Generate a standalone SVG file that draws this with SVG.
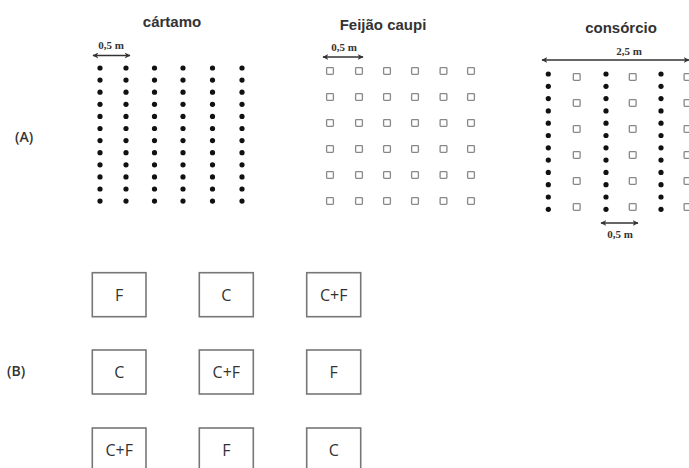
<svg xmlns="http://www.w3.org/2000/svg" xmlns:xlink="http://www.w3.org/1999/xlink" width="689" height="468" viewBox="0 0 689 468">
<style>
.title{font-family:"Liberation Sans",Arial,sans-serif;font-size:15px;font-weight:bold;fill:#333;text-anchor:middle}
.dim{font-family:"Liberation Serif","Times New Roman",serif;font-size:11px;font-weight:bold;fill:#333;text-anchor:middle}
.panel{font-family:"Open Sans","Liberation Sans",sans-serif;font-size:14px;font-weight:600;fill:#333}
.box rect{fill:#fff;stroke:#777;stroke-width:1.6}
.box text{font-family:"Open Sans","Liberation Sans",sans-serif;font-size:16px;fill:#333;text-anchor:middle}
.arrow{stroke:#333;stroke-width:1.3;fill:none;marker-start:url(#ah);marker-end:url(#ah)}
</style>
<defs>
<marker id="ah" viewBox="0 0 10 10" refX="9" refY="5" markerWidth="6" markerHeight="6" markerUnits="userSpaceOnUse" orient="auto-start-reverse">
<path d="M0,0 L10,5 L0,10 L3,5 Z" fill="#333"/>
</marker>
<circle id="d" r="2.6" fill="#111"/>
<rect id="s" x="-3.4" y="-3.4" width="6.8" height="6.8" fill="#fff" stroke="#888" stroke-width="1.3" rx="0.8"/>
<g id="dcol">
<use xlink:href="#d" y="0"/><use xlink:href="#d" y="12.1"/><use xlink:href="#d" y="24.2"/><use xlink:href="#d" y="36.3"/>
<use xlink:href="#d" y="48.4"/><use xlink:href="#d" y="60.5"/><use xlink:href="#d" y="72.6"/><use xlink:href="#d" y="84.7"/>
<use xlink:href="#d" y="96.8"/><use xlink:href="#d" y="108.9"/><use xlink:href="#d" y="121"/><use xlink:href="#d" y="133.1"/>
</g>
<g id="dcol2">
<use xlink:href="#d" y="0"/><use xlink:href="#d" y="12.3"/><use xlink:href="#d" y="24.6"/><use xlink:href="#d" y="36.9"/>
<use xlink:href="#d" y="49.2"/><use xlink:href="#d" y="61.5"/><use xlink:href="#d" y="73.8"/><use xlink:href="#d" y="86.1"/>
<use xlink:href="#d" y="98.4"/><use xlink:href="#d" y="110.7"/><use xlink:href="#d" y="123"/><use xlink:href="#d" y="135.3"/>
</g>
<g id="scol">
<use xlink:href="#s" y="0"/><use xlink:href="#s" y="26"/><use xlink:href="#s" y="52"/>
<use xlink:href="#s" y="78"/><use xlink:href="#s" y="104"/><use xlink:href="#s" y="130"/>
</g>
</defs>
<rect width="689" height="468" fill="#fff"/>

<text class="panel" x="15" y="142">(A)</text>
<text class="panel" x="7" y="376">(B)</text>

<g id="cartamo">
<text class="title" x="172" y="27">cártamo</text>
<use xlink:href="#dcol" x="100" y="68"/>
<use xlink:href="#dcol" x="126" y="68"/>
<use xlink:href="#dcol" x="154.5" y="68"/>
<use xlink:href="#dcol" x="183" y="68"/>
<use xlink:href="#dcol" x="212.5" y="68"/>
<use xlink:href="#dcol" x="242" y="68"/>
</g>

<g id="feijao">
<text class="title" x="383" y="30">Feijão caupi</text>
<use xlink:href="#scol" x="330" y="71"/>
<use xlink:href="#scol" x="359" y="71"/>
<use xlink:href="#scol" x="387" y="71"/>
<use xlink:href="#scol" x="415" y="71"/>
<use xlink:href="#scol" x="443.5" y="71"/>
<use xlink:href="#scol" x="471" y="71"/>
</g>

<g id="consorcio">
<text class="title" x="621" y="33">consórcio</text>
<use xlink:href="#dcol2" x="548.3" y="74"/>
<use xlink:href="#dcol2" x="606" y="74"/>
<use xlink:href="#dcol2" x="661" y="74"/>
<use xlink:href="#scol" x="576.7" y="77"/>
<use xlink:href="#scol" x="632.7" y="77"/>
<use xlink:href="#scol" x="687.5" y="77"/>
</g>

<g id="connectors">
<line class="arrow" x1="93" y1="55.5" x2="130" y2="55.5"/>
<line class="arrow" x1="323" y1="57" x2="363" y2="57"/>
<line class="arrow" x1="542" y1="60" x2="689" y2="60"/>
<line class="arrow" x1="601" y1="223" x2="638" y2="223"/>
</g>
<g id="dims">
<text class="dim" x="111" y="48.5">0,5 m</text>
<text class="dim" x="344" y="51">0,5 m</text>
<text class="dim" x="629" y="55">2,5 m</text>
<text class="dim" x="620" y="238">0,5 m</text>
</g>

<g id="b11" class="box"><rect x="92.3" y="272.7" width="53.7" height="44"/><text x="119.2" y="300.5">F</text></g>
<g id="b12" class="box"><rect x="199.3" y="272.7" width="54" height="44"/><text x="226.3" y="300.5">C</text></g>
<g id="b13" class="box"><rect x="306.7" y="272.7" width="54" height="44"/><text x="333.7" y="300.5">C+F</text></g>
<g id="b21" class="box"><rect x="92.3" y="350" width="53.7" height="44"/><text x="119.2" y="377.8">C</text></g>
<g id="b22" class="box"><rect x="199.3" y="350" width="54" height="44"/><text x="226.3" y="377.8">C+F</text></g>
<g id="b23" class="box"><rect x="306.7" y="350" width="54" height="44"/><text x="333.7" y="377.8">F</text></g>
<g id="b31" class="box"><rect x="92.3" y="428" width="53.7" height="44"/><text x="119.2" y="455.5">C+F</text></g>
<g id="b32" class="box"><rect x="199.3" y="428" width="54" height="44"/><text x="226.3" y="455.5">F</text></g>
<g id="b33" class="box"><rect x="306.7" y="428" width="54" height="44"/><text x="333.7" y="455.5">C</text></g>
</svg>
